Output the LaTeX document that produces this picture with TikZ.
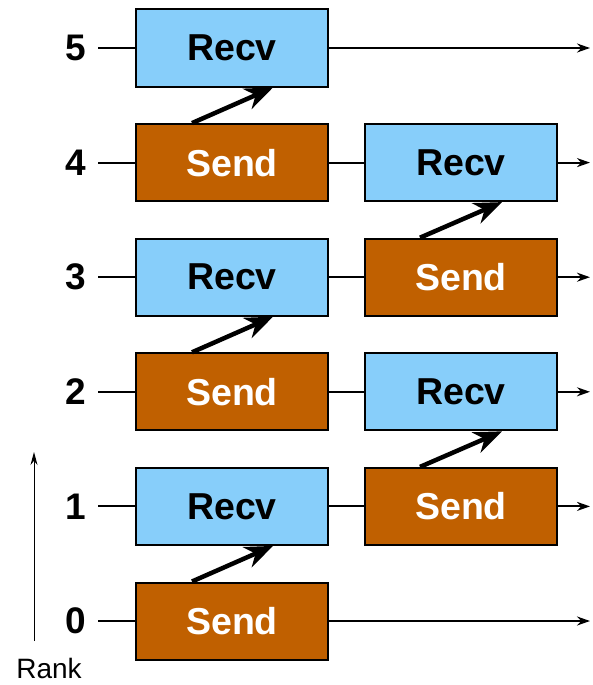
\documentclass[tikz,border=0pt]{standalone}
\usepackage{fontspec}
\setmainfont{Liberation Sans}
\usetikzlibrary{arrows.meta}
\definecolor{recvblue}{HTML}{87CEFA}
\definecolor{sendbrown}{HTML}{C06000}
\begin{document}
\begin{tikzpicture}[x=1pt,y=-1pt,
 box/.style={draw=black, line width=2pt, minimum width=192pt, minimum height=77pt, inner sep=0pt, font=\bfseries\fontsize{37.5}{37.5}\selectfont},
 recvbox/.style={box, fill=recvblue, text=black},
 sendbox/.style={box, fill=sendbrown, text=white},
 ranklbl/.style={font=\bfseries\fontsize{37}{37}\selectfont, inner sep=0pt},
 tl/.style={line width=2pt},
 outarrow/.style={line width=2pt, -{Stealth[length=13pt,width=9pt]}},
 msg/.style={line width=4.5pt, -{Stealth[length=28pt,width=22pt,inset=9pt]}}]
\useasboundingbox (0,0) rectangle (592,685);
% rank axis
\coordinate (ax0) at (34,641);
\coordinate (ax1) at (34,452);
\draw[line width=1pt,-{Stealth[length=13pt,width=7pt]}] (ax0) -- (ax1);
\node[font=\fontsize{28}{28}\selectfont, inner sep=0pt, anchor=base] (ranktxt) at (49,678) {Rank};
% rank labels and line starts / ends
\foreach \k/\y in {0/621,1/506.4,2/391.8,3/277.2,4/162.6,5/48}{
  \node[ranklbl] (n\k) at (76,\y) {\k};
  \coordinate (l\k) at (98,\y);
  \coordinate (e\k) at (590,\y);
}
% boxes left column
\node[recvbox] (r5) at (232,48) {Recv};
\node[sendbox] (s4) at (232,162.6) {Send};
\node[recvbox] (r3) at (232,277.2) {Recv};
\node[sendbox] (s2) at (232,391.8) {Send};
\node[recvbox] (r1) at (232,506.4) {Recv};
\node[sendbox] (s0) at (232,621) {Send};
% boxes right column
\node[recvbox] (R4) at (461,162.6) {Recv};
\node[sendbox] (S3) at (461,277.2) {Send};
\node[recvbox] (R2) at (461,391.8) {Recv};
\node[sendbox] (S1) at (461,506.4) {Send};
% timelines
\draw[tl] (l5) -- (r5.west);
\draw[outarrow] (r5.east) -- (e5);
\draw[tl] (l4) -- (s4.west);
\draw[tl] (s4.east) -- (R4.west);
\draw[outarrow] (R4.east) -- (e4);
\draw[tl] (l3) -- (r3.west);
\draw[tl] (r3.east) -- (S3.west);
\draw[outarrow] (S3.east) -- (e3);
\draw[tl] (l2) -- (s2.west);
\draw[tl] (s2.east) -- (R2.west);
\draw[outarrow] (R2.east) -- (e2);
\draw[tl] (l1) -- (r1.west);
\draw[tl] (r1.east) -- (S1.west);
\draw[outarrow] (S1.east) -- (e1);
\draw[tl] (l0) -- (s0.west);
\draw[outarrow] (s0.east) -- (e0);
% messages
\draw[msg] ([xshift=-40pt]s4.north) -- ([xshift=41pt]r5.south);
\draw[msg] ([xshift=-40pt]s2.north) -- ([xshift=41pt]r3.south);
\draw[msg] ([xshift=-40pt]s0.north) -- ([xshift=41pt]r1.south);
\draw[msg] ([xshift=-41pt]S3.north) -- ([xshift=41pt]R4.south);
\draw[msg] ([xshift=-41pt]S1.north) -- ([xshift=41pt]R2.south);
\end{tikzpicture}
\end{document}
